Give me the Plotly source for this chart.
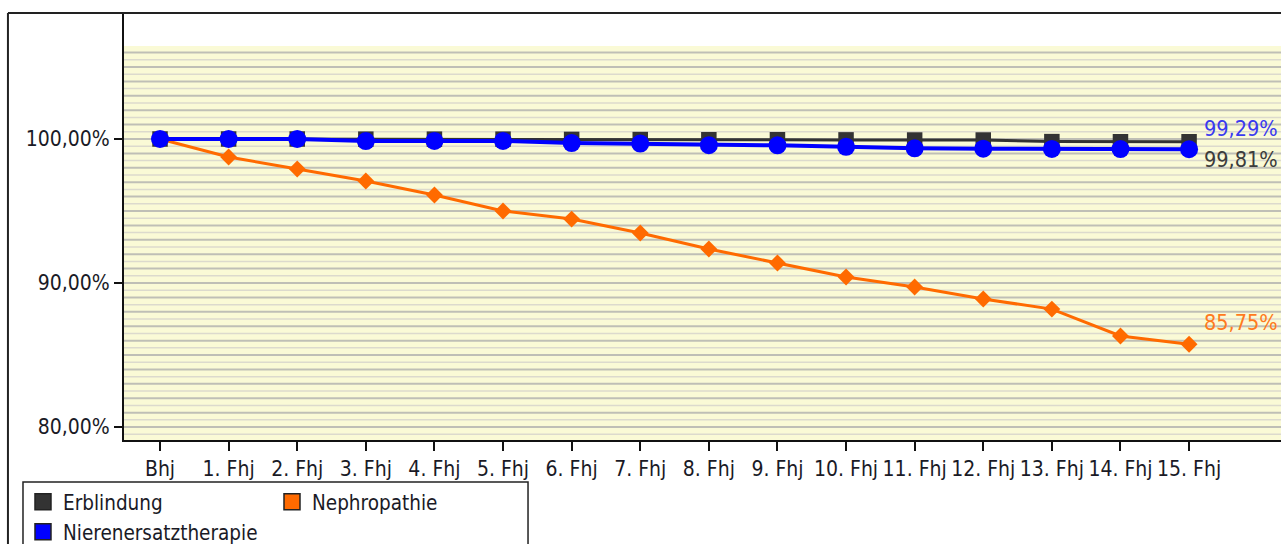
import plotly.graph_objects as go

# Follow-up periods: baseline (Bhj) and follow-up years 1..15
periods = ["Bhj"] + [f"{i}. Fhj" for i in range(1, 16)]

# Event-free share per period, in percent
erblindung = [100.00, 100.00, 100.00, 99.99, 99.99, 99.99, 99.97, 99.96,
              99.95, 99.95, 99.94, 99.93, 99.93, 99.82, 99.81, 99.81]
nephropathie = [100.00, 98.75, 97.92, 97.08, 96.11, 95.00, 94.44, 93.47,
                92.36, 91.39, 90.42, 89.72, 88.89, 88.19, 86.32, 85.75]
nierenersatz = [100.00, 100.00, 100.00, 99.86, 99.87, 99.87, 99.72, 99.68,
                99.57, 99.56, 99.46, 99.35, 99.33, 99.31, 99.30, 99.29]

y_ticks = [80, 90, 100]
y_tick_labels = ["80,00%", "90,00%", "100,00%"]

FONT = "DejaVu Sans Condensed"
TXT = "#1a1a26"
C_BLACK = "#333333"
C_ORANGE = "#ff6a00"
C_BLUE = "#0000ff"

x = list(range(len(periods)))

fig = go.Figure()

fig.add_trace(go.Scatter(
    x=x, y=erblindung, mode="lines+markers", showlegend=False,
    line=dict(color=C_BLACK, width=3),
    marker=dict(symbol="square", size=15.5, color=C_BLACK),
))
fig.add_trace(go.Scatter(
    x=x, y=nephropathie, mode="lines+markers", showlegend=False,
    line=dict(color=C_ORANGE, width=3),
    marker=dict(symbol="diamond", size=13, color=C_ORANGE),
))
fig.add_trace(go.Scatter(
    x=x, y=nierenersatz, mode="lines+markers", showlegend=False,
    line=dict(color=C_BLUE, width=4),
    marker=dict(symbol="circle", size=18, color=C_BLUE),
))

# Legend swatches: two entries on the first row, one on the second
for name, col, leg in [("Erblindung", C_BLACK, "legend"),
                       ("Nephropathie", C_ORANGE, "legend"),
                       ("Nierenersatztherapie", C_BLUE, "legend2")]:
    fig.add_trace(go.Scatter(
        x=[None], y=[None], mode="markers", name=name, legend=leg,
        marker=dict(symbol="square", size=16, color=col,
                    line=dict(color="#222222", width=1.5)),
    ))

shapes = []
# pale yellow plotting band
shapes.append(dict(type="rect", xref="paper", yref="y", x0=0, x1=1,
                   y0=79.1, y1=106.45, fillcolor="#fafad6",
                   line=dict(width=0), layer="below"))
# striped grid: darker lines on whole percents, lighter on half percents
v = 79.5
while v <= 106.01:
    whole = abs(v - round(v)) < 1e-6
    shapes.append(dict(type="line", xref="paper", yref="y", x0=0, x1=1,
                       y0=v, y1=v, layer="below",
                       line=dict(color="#bfbfb6" if whole else "#dcdacd",
                                 width=2 if whole else 1.5)))
    v += 0.5

# outer frame (top and left edges)
shapes.append(dict(type="line", xref="paper", yref="paper",
                   x0=-0.1003, x1=1.01, y0=1, y1=1,
                   line=dict(color="#222222", width=2)))
shapes.append(dict(type="line", xref="paper", yref="paper",
                   x0=-0.1003, x1=-0.1003, y0=1, y1=-0.26,
                   line=dict(color="#222222", width=2)))
# legend frame
shapes.append(dict(type="rect", xref="paper", yref="paper",
                   x0=-0.0873, x1=0.3492, y0=-0.0984, y1=-0.29,
                   line=dict(color="#222222", width=1.5),
                   fillcolor="rgba(0,0,0,0)"))

last = len(periods) - 1
annotations = [
    dict(x=last, y=nierenersatz[-1], text="99,29%", xanchor="left",
         xshift=13, yshift=21, showarrow=False,
         font=dict(family=FONT, size=21.5, color="#3a3af0")),
    dict(x=last, y=erblindung[-1], text="99,81%", xanchor="left",
         xshift=13, yshift=-18, showarrow=False,
         font=dict(family=FONT, size=21.5, color="#3c3c3c")),
    dict(x=last, y=nephropathie[-1], text="85,75%", xanchor="left",
         xshift=13, yshift=22, showarrow=False,
         font=dict(family=FONT, size=21.5, color="#ff7a20")),
]

legend_common = dict(
    orientation="h", xanchor="left", yanchor="top",
    borderwidth=0, bgcolor="rgba(0,0,0,0)",
    entrywidth=204, entrywidthmode="pixels",
    font=dict(family=FONT, size=20.5, color=TXT),
    itemsizing="trace", traceorder="normal",
)

fig.update_layout(
    width=1281, height=544, autosize=False,
    margin=dict(l=124, r=0, t=13, b=104, pad=0, autoexpand=False),
    paper_bgcolor="white", plot_bgcolor="white",
    font=dict(family=FONT, color=TXT),
    shapes=shapes, annotations=annotations,
    xaxis=dict(
        range=[-0.525, 16.34], tickvals=x, ticktext=periods,
        showgrid=False, zeroline=False, showline=True,
        linecolor="#111111", linewidth=2,
        ticks="outside", ticklen=9, tickwidth=2, tickcolor="#111111",
        tickfont=dict(family=FONT, size=21, color=TXT),
    ),
    yaxis=dict(
        range=[79.1, 108.75], tickvals=y_ticks, ticktext=y_tick_labels,
        showgrid=False, zeroline=False, showline=True,
        linecolor="#111111", linewidth=2,
        ticks="outside", ticklen=8, tickwidth=2, tickcolor="#111111",
        tickfont=dict(family=FONT, size=21, color=TXT),
    ),
    legend=dict(x=-0.0873, y=-0.0984, **legend_common),
    legend2=dict(x=-0.0873, y=-0.1686, **legend_common),
)

fig.write_html("out.html")
